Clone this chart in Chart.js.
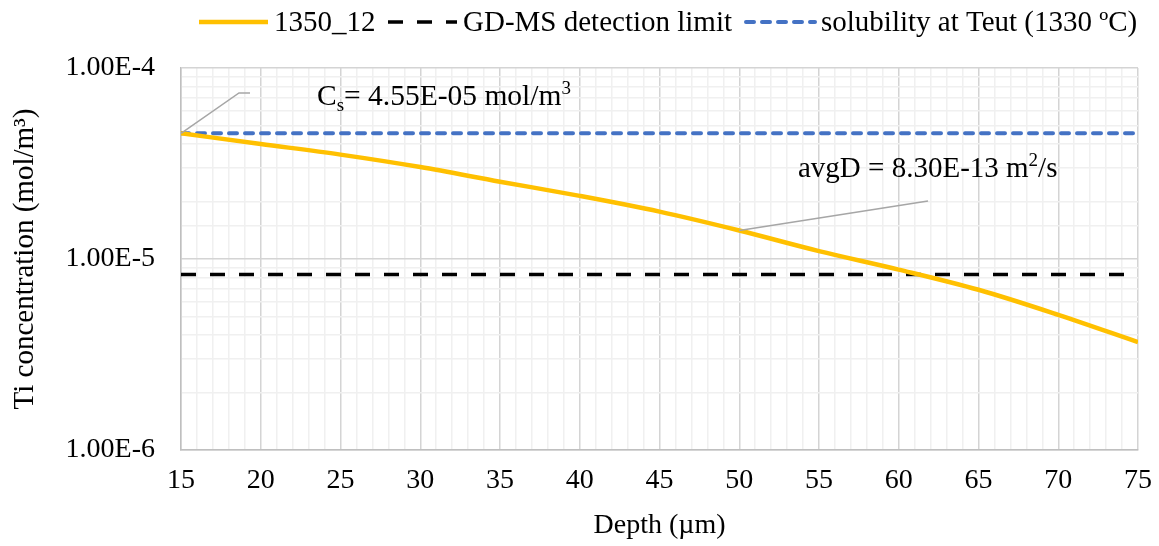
<!DOCTYPE html>
<html>
<head>
<meta charset="utf-8">
<script src="https://cdn.jsdelivr.net/npm/chart.js@4.4.0/dist/chart.umd.min.js"></script>
<style>
  html, body { margin: 0; padding: 0; background: #fff; }
  #wrap { width: 1159px; height: 546px; }
</style>
</head>
<body>
<div id="wrap"><canvas id="chart" width="1159" height="546"></canvas></div>
<script>
// --- data ---
const depth = [15, 20, 25, 30, 35, 40, 45, 50, 55, 60, 65, 70, 75];
const conc1350 = [4.55e-5, 4.00e-5, 3.52e-5, 3.03e-5, 2.54e-5, 2.14e-5, 1.77e-5, 1.41e-5, 1.10e-5, 8.8e-6, 6.9e-6, 5.1e-6, 3.67e-6];
const lineX = [15, 75];
const detectLimit = [8.3e-6, 8.3e-6];
const solubility = [4.55e-5, 4.55e-5];
const seriesNames = ['1350_12', 'GD-MS detection limit', 'solubility at Teut (1330 ºC)'];
const xMin = 15, xMax = 75;
const yMin = 1e-6, yMax = 1e-4;

const FONT = 'Liberation Serif';
const pts = (xs, ys) => xs.map((v, i) => ({ x: v, y: ys[i] }));

// draws text made of pieces, some raised or lowered (sub/superscripts)
function drawRich(ctx, x, y, parts) {
    ctx.textBaseline = 'alphabetic';
    ctx.textAlign = 'left';
    parts.forEach(([txt, size, dy]) => {
        ctx.font = size + 'px "' + FONT + '"';
        ctx.fillText(txt, x, y + dy);
        x += ctx.measureText(txt).width;
    });
}

const extras = {
    id: 'extras',
    afterDatasetsDraw(chart) {
        const { ctx, scales: { x, y } } = chart;
        ctx.save();
        ctx.strokeStyle = '#a6a6a6';
        ctx.lineWidth = 1.5;
        // leader line for Cs
        ctx.beginPath();
        ctx.moveTo(x.getPixelForValue(lineX[0]), y.getPixelForValue(solubility[0]));
        ctx.lineTo(239, 93);
        ctx.lineTo(250, 93);
        ctx.stroke();
        // leader line for avgD
        const i50 = depth.indexOf(50);
        ctx.beginPath();
        ctx.moveTo(x.getPixelForValue(depth[i50]), y.getPixelForValue(conc1350[i50]));
        ctx.lineTo(928, 201);
        ctx.stroke();

        ctx.fillStyle = '#000';
        drawRich(ctx, 317, 105, [['C', 29.5, 0], ['s', 19, 6], ['= 4.55E-05 mol/m', 29.5, 0], ['3', 19, -11]]);
        drawRich(ctx, 798, 177, [['avgD = 8.30E-13 m', 29, 0], ['2', 19, -11], ['/s', 29, 0]]);
        ctx.restore();
    },
    afterDraw(chart) {
        // legend
        const ctx = chart.ctx;
        ctx.save();
        ctx.font = '29px "' + FONT + '"';
        ctx.textBaseline = 'middle';
        ctx.fillStyle = '#000';
        const startX = [197, 386, 744];
        const cy = 22;
        chart.data.datasets.forEach((ds, i) => {
            const cx = startX[i];
            ctx.strokeStyle = ds.borderColor;
            ctx.lineWidth = ds.borderWidth;
            ctx.setLineDash(ds.borderDash || []);
            ctx.lineCap = ds.borderCapStyle || 'butt';
            ctx.beginPath();
            ctx.moveTo(cx + 2, cy);
            ctx.lineTo(cx + 71, cy);
            ctx.stroke();
            ctx.setLineDash([]);
            ctx.fillText(ds.label, cx + 77, cy + 1);
        });
        ctx.restore();
    }
};

new Chart(document.getElementById('chart'), {
    type: 'line',
    data: {
        datasets: [
            {
                label: seriesNames[0],
                data: pts(depth, conc1350),
                borderColor: '#FFC000',
                borderWidth: 4.5,
                cubicInterpolationMode: 'monotone',
                pointRadius: 0
            },
            {
                label: seriesNames[1],
                data: pts(lineX, detectLimit),
                borderColor: '#000000',
                borderWidth: 3.5,
                borderDash: [15, 14],
                pointRadius: 0
            },
            {
                label: seriesNames[2],
                data: pts(lineX, solubility),
                borderColor: '#4472C4',
                borderWidth: 4,
                borderDash: [8, 8],
                borderCapStyle: 'round',
                pointRadius: 0
            }
        ]
    },
    options: {
        responsive: false,
        animation: false,
        devicePixelRatio: 1,
        layout: { padding: { top: 68, right: 21, bottom: 0, left: 0 } },
        plugins: { legend: { display: false }, tooltip: { enabled: false } },
        scales: {
            x: {
                type: 'linear',
                min: xMin,
                max: xMax,
                afterFit: s => { s.height = 96; s.paddingRight = 0; s.paddingLeft = 0; },
                border: { color: '#bfbfbf', width: 1.5 },
                grid: {
                    drawTicks: false,
                    lineWidth: 1.5,
                    color: c => (c.tick && c.tick.value % 5 === 0) ? '#d4d4d4' : '#f0f0f0'
                },
                ticks: {
                    stepSize: 1,
                    autoSkip: false,
                    maxRotation: 0,
                    padding: 14,
                    color: '#000',
                    font: { family: FONT, size: 28 },
                    callback: v => (v % 5 === 0 ? String(v) : '')
                },
                title: {
                    display: true,
                    text: 'Depth (µm)',
                    color: '#000',
                    font: { family: FONT, size: 28 },
                    padding: { top: 0, bottom: 4 }
                }
            },
            y: {
                type: 'logarithmic',
                min: yMin,
                max: yMax,
                afterFit: s => { s.width = 181; },
                border: { color: '#bfbfbf', width: 1.5 },
                grid: {
                    drawTicks: false,
                    lineWidth: 1.5,
                    color: c => {
                        if (!c.tick) return '#f0f0f0';
                        const e = Math.log10(c.tick.value);
                        return Math.abs(e - Math.round(e)) < 1e-6 ? '#d4d4d4' : '#f0f0f0';
                    }
                },
                ticks: {
                    autoSkip: false,
                    padding: 26,
                    color: '#000',
                    font: { family: FONT, size: 28 },
                    callback: v => {
                        const e = Math.log10(v);
                        return Math.abs(e - Math.round(e)) < 1e-6 ? '1.00E' + Math.round(e) : '';
                    }
                },
                title: {
                    display: true,
                    text: 'Ti concentration (mol/m³)',
                    color: '#000',
                    font: { family: FONT, size: 29 },
                    padding: { top: 8, bottom: 0 }
                }
            }
        }
    },
    plugins: [extras]
});
</script>
</body>
</html>
